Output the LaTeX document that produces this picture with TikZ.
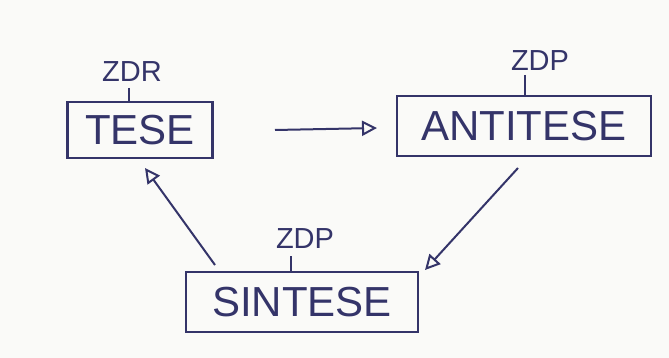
\documentclass[tikz,border=0pt]{standalone}
\usepackage{fontspec}
\setmainfont{Liberation Sans}
\usetikzlibrary{arrows.meta}
\definecolor{ink}{RGB}{52,52,105}
\definecolor{paper}{RGB}{250,250,248}
\tikzset{
  concept/.style={draw=ink, line width=2.4pt, text=ink, inner sep=0pt, font=\fontsize{42}{42}\selectfont},
  zlabel/.style={text=ink, inner sep=0pt, font=\fontsize{29}{29}\selectfont},
  tick/.style={draw=ink, line width=1.8pt},
  flow/.style={draw=ink, line width=2pt, -{Triangle[open, length=15pt, width=15pt]}}
}
\begin{document}
\begin{tikzpicture}[x=1pt,y=-1pt]
\fill[paper] (0,0) rectangle (669,358);
\useasboundingbox (0,0) rectangle (669,358);
% boxes
\node[concept, minimum width=145pt, minimum height=56pt] (tese) at (140,130) {TESE};
\node[concept, minimum width=254pt, minimum height=60pt] (anti) at (524,126) {ANTITESE};
\node[concept, minimum width=232pt, minimum height=60pt] (sint) at (302,302) {SINTESE};
% labels
\node[zlabel] (ztese) at (132,72) {ZDR};
\node[zlabel] (zanti) at (540,61) {ZDP};
\node[zlabel] (zsint) at (305,239) {ZDP};
\draw[tick] (129,88) coordinate (t1) -- (t1 |- tese.north);
\draw[tick] (525,75) coordinate (t2) -- (t2 |- anti.north);
\draw[tick] (291,256) coordinate (t3) -- (t3 |- sint.north);
% connectors
\coordinate (a1) at (275,130);
\coordinate (a2) at (377,128);
\draw[flow] (a1) -- (a2);
\coordinate (b1) at (518,168);
\coordinate (b2) at (425,270);
\draw[flow] (b1) -- (b2);
\coordinate (c1) at (215,265);
\coordinate (c2) at (145,168);
\draw[flow] (c1) -- (c2);
\end{tikzpicture}
\end{document}
